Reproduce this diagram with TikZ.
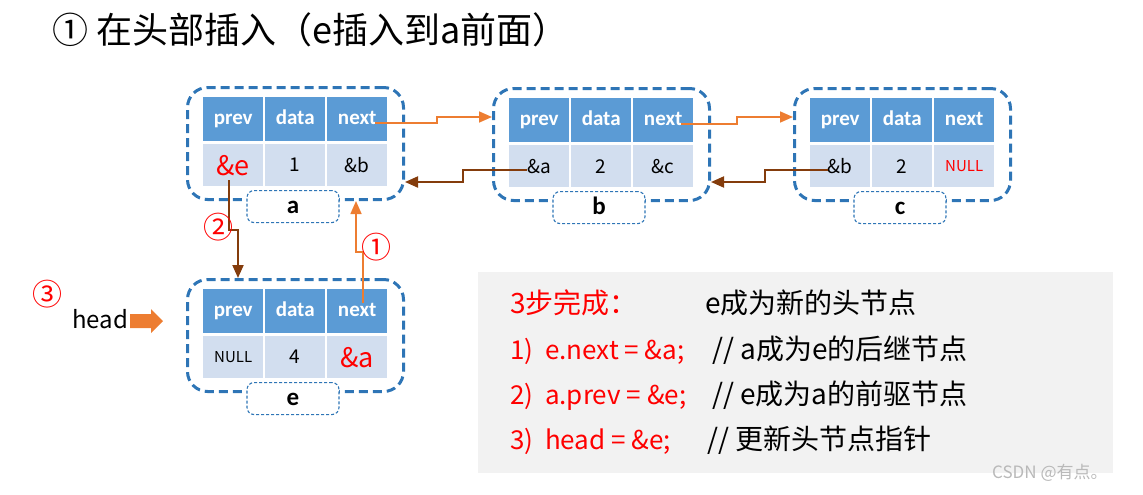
\documentclass[tikz,border=0pt]{standalone}
\usepackage{fontspec}
\setmainfont{Carlito}
\newfontfamily\cjk{Noto Sans CJK SC}
\usetikzlibrary{arrows.meta,calc}
\definecolor{hdr}{HTML}{5B9BD5}
\definecolor{cellc}{HTML}{D2DEEF}
\definecolor{bord}{HTML}{2E75B6}
\definecolor{orng}{HTML}{ED7D31}
\definecolor{brwn}{HTML}{843C0C}
\definecolor{gbox}{HTML}{F2F2F2}
\newcommand\fs[1]{\fontsize{#1pt}{#1pt}\selectfont}
\tikzset{
 hcell/.style={fill=hdr, text=white, minimum width=60pt, minimum height=44pt, inner sep=0pt, anchor=north west, font=\fs{21}\bfseries, text height=14pt, text depth=4pt},
 dcell/.style={fill=cellc, minimum width=60pt, minimum height=42pt, inner sep=0pt, anchor=north west, font=\cjk\fs{19}},
 outerbox/.style={draw=bord, line width=3pt, dash pattern=on 9pt off 5pt, rounded corners=20pt, minimum width=216pt, minimum height=112pt, anchor=north west, inner sep=0pt},
 lblbox/.style={draw=bord, fill=white, line width=1.1pt, dash pattern=on 3pt off 2pt, rounded corners=7pt, minimum width=92pt, minimum height=32pt, anchor=north, inner sep=0pt, font=\fs{25}\bfseries, text height=15pt, text depth=2pt},
 oarrow/.style={draw=orng, line width=1.6pt, -{Triangle[length=13pt,width=11pt]}},
 barrow/.style={draw=brwn, line width=2pt, -{Triangle[length=13pt,width=11pt]}},
 circnum/.style={text=red, font=\cjk\fs{30}, inner sep=0pt},
 txt/.style={anchor=base west, inner sep=0pt, font=\cjk\fs{28}},
 rtxt/.style={anchor=base west, inner sep=0pt, font=\cjk\fs{26}, text=red},
}
\newcommand\dllnode[7]{%
 \node[outerbox] (#1-box) at ({#2-17},{#3-11}) {};
 \node[hcell] (#1-hp) at (#2,#3) {prev};
 \node[hcell] (#1-hd) at ({#2+62},#3) {data};
 \node[hcell] (#1-hn) at ({#2+124},#3) {next};
 \node[dcell] (#1-prev) at (#2,{#3+47}) {#4};
 \node[dcell] (#1-data) at ({#2+62},{#3+47}) {#5};
 \node[dcell] (#1-next) at ({#2+124},{#3+47}) {#6};
 \node[lblbox] (#1-lbl) at ({#2+90},{#3+93}) {#7};
}
\begin{document}
\begin{tikzpicture}[x=1pt,y=-1pt]
\useasboundingbox (0,0) rectangle (1143,495);
\node[anchor=base west, inner sep=0pt, font=\cjk\fs{36}] (title) at (52,44) {① 在头部插入（e插入到a前面）};

\dllnode{a}{203}{97}{\color{red}\fs{27}\&e}{1}{\&b}{a}
\dllnode{b}{509}{98}{\&a}{2}{\&c}{b}
\dllnode{c}{810}{98}{\&b}{2}{\color{red}\fs{15}NULL}{c}
\dllnode{e}{203}{289}{\fs{15}NULL}{4}{\color{red}\fs{27}\&a}{e}

\draw[oarrow] ($(a-hn.center)+(18,4)$) -- ++(62,0) |- ($(b-box.north west)+(0,30)$);
\draw[oarrow] ($(b-hn.center)+(18,4)$) -- ++(56,0) |- ($(c-box.north west)+(0,30)$);
\draw[barrow] ($(b-prev.center)+(-12,4)$) -- ++(-64,0) |- ($(a-box.south east)+(0,-19)$);
\draw[barrow] ($(c-prev.center)+(-12,4)$) -- ++(-63,0) |- ($(b-box.south east)+(0,-20)$);
\draw[barrow] ($(a-prev.center)+(-4,15)$) -- ++(0,50) -| ($(e-box.north west)+(52,0)$);
\draw[oarrow] ($(e-hn.center)+(6,-8)$) -- ++(0,-51) -| ($(a-box.south west)+(170,0)$);

\node[circnum] (n2) at (218,227) {②};
\node[circnum] (n1) at (376,247) {①};
\node[circnum] (n3) at (47,294) {③};

\node[anchor=base west, inner sep=0pt, font=\cjk\fs{24}] (head) at (72,328) {head};
\coordinate (htip) at (163,321);
\fill[orng] (htip) -- ++(-12,-12) -- ++(0,5) -- ++(-21,0) -- ++(0,14) -- ++(21,0) -- ++(0,5) -- cycle;

\node[fill=gbox, anchor=north west, minimum width=635pt, minimum height=201pt, inner sep=0pt] (panel) at (478,272) {};
\node[txt, text=red] (s0) at (510,313) {3步完成：};
\node[txt] (s0c) at (705,313) {e成为新的头节点};
\node[rtxt] (s1) at (510,359) {1)\ \ e.next = \&a;};
\node[txt] (s1c) at (712,359) {// a成为e的后继节点};
\node[rtxt] (s2) at (510,404) {2)\ \ a.prev = \&e;};
\node[txt] (s2c) at (712,404) {// e成为a的前驱节点};
\node[rtxt] (s3) at (510,449) {3)\ \ head = \&e;};
\node[txt] (s3c) at (707,449) {// 更新头节点指针};

\node[anchor=base west, inner sep=0pt, font=\cjk\fs{17}, text=gray!55] (wm) at (992,478) {CSDN @有点。};
\end{tikzpicture}
\end{document}
